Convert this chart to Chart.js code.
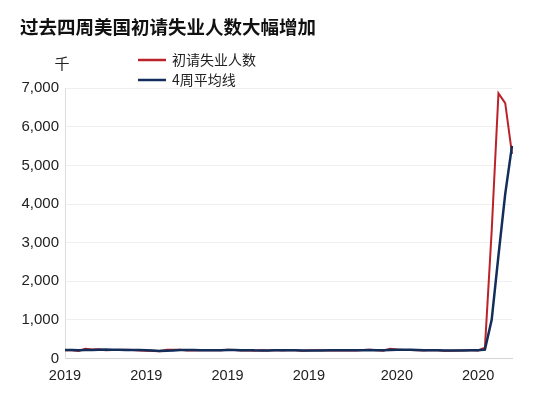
<!DOCTYPE html>
<html>
<head>
<meta charset="utf-8">
<script src="https://cdn.jsdelivr.net/npm/chart.js@4"></script>
<style>
  html, body { margin: 0; padding: 0; background: #fff; }
  #wrap { width: 550px; height: 396px; }
</style>
</head>
<body>
<div id="wrap"><canvas id="chart" width="550" height="396"></canvas></div>
<script>
// weekly dates (week ending Saturday)
const weeks = [
  "2019-01-05","2019-01-12","2019-01-19","2019-01-26","2019-02-02","2019-02-09","2019-02-16","2019-02-23",
  "2019-03-02","2019-03-09","2019-03-16","2019-03-23","2019-03-30","2019-04-06","2019-04-13","2019-04-20",
  "2019-04-27","2019-05-04","2019-05-11","2019-05-18","2019-05-25","2019-06-01","2019-06-08","2019-06-15",
  "2019-06-22","2019-06-29","2019-07-06","2019-07-13","2019-07-20","2019-07-27","2019-08-03","2019-08-10",
  "2019-08-17","2019-08-24","2019-08-31","2019-09-07","2019-09-14","2019-09-21","2019-09-28","2019-10-05",
  "2019-10-12","2019-10-19","2019-10-26","2019-11-02","2019-11-09","2019-11-16","2019-11-23","2019-11-30",
  "2019-12-07","2019-12-14","2019-12-21","2019-12-28","2020-01-04","2020-01-11","2020-01-18","2020-01-25",
  "2020-02-01","2020-02-08","2020-02-15","2020-02-22","2020-02-29","2020-03-07","2020-03-14","2020-03-21",
  "2020-03-28","2020-04-04","2020-04-11"
];

// 初请失业人数 (thousands)
const claims = [
  216, 213, 199, 253, 234, 239, 216, 225, 223, 229, 221, 211, 202, 196, 192, 230,
  230, 228, 212, 211, 215, 218, 222, 216, 227, 221, 209, 216, 206, 215, 209, 220,
  209, 215, 217, 204, 208, 213, 219, 210, 218, 212, 218, 211, 225, 227, 213, 203,
  252, 235, 222, 220, 214, 207, 223, 216, 202, 205, 211, 219, 216, 211, 282, 3307,
  6867, 6615, 5300
];

// 4周平均线 (thousands)
const avg4w = [
  221, 220, 215, 220, 225, 231, 236, 229, 226, 223, 225, 221, 216, 207, 200, 205,
  212, 220, 225, 220, 217, 214, 217, 218, 221, 222, 218, 218, 213, 212, 212, 213,
  213, 213, 215, 211, 211, 211, 211, 213, 215, 215, 215, 215, 217, 220, 219, 217,
  224, 232, 228, 232, 223, 216, 216, 215, 212, 212, 209, 209, 213, 215, 232, 1004,
  2665, 4266, 5508
];

// x tick labels shown under the axis
const tickIdx = [0, 12, 24, 36, 49, 61];
const tickText = ["2019", "2019", "2019", "2019", "2020", "2020"];

const seriesNames = ["初请失业人数", "4周平均线"];
const seriesColors = ["#bb2229", "#132e5a"];

const textColor = "#222";
const cjk = "'Noto Sans CJK SC', 'Noto Sans', sans-serif";
const latin = "'Liberation Sans', Arial, sans-serif";

// legend + unit label drawn above the plot
const topLabels = {
  id: "topLabels",
  afterDraw(chart) {
    const ctx = chart.ctx;
    ctx.save();
    ctx.font = "15px " + cjk;
    ctx.fillStyle = textColor;
    ctx.textAlign = "center";
    ctx.textBaseline = "middle";
    ctx.fillText("千", 62, 63);

    ctx.textAlign = "left";
    ctx.font = "14px " + cjk;
    chart.data.datasets.forEach((ds, i) => {
      const y = 60 + i * 20;
      ctx.strokeStyle = ds.borderColor;
      ctx.lineWidth = 2.5;
      ctx.beginPath();
      ctx.moveTo(138, y);
      ctx.lineTo(166, y);
      ctx.stroke();
      ctx.fillText(ds.label, 172, y);
    });
    ctx.restore();
  },
};

new Chart(document.getElementById("chart"), {
  type: "line",
  data: {
    labels: weeks,
    datasets: [
      {
        label: seriesNames[0],
        data: claims,
        borderColor: seriesColors[0],
        borderWidth: 2,
        pointRadius: 0,
        tension: 0,
        order: 2,
      },
      {
        label: seriesNames[1],
        data: avg4w,
        borderColor: seriesColors[1],
        borderWidth: 2.5,
        pointRadius: 0,
        tension: 0,
        order: 1,
      },
    ],
  },
  options: {
    responsive: false,
    animation: false,
    layout: { padding: { left: 20, right: 38, top: 4, bottom: 2 } },
    plugins: {
      legend: { display: false },
      tooltip: { enabled: false },
      title: {
        display: true,
        text: "过去四周美国初请失业人数大幅增加",
        align: "start",
        color: "#111",
        font: { family: cjk, size: 18.5, weight: "bold" },
        padding: { top: 12, bottom: 50 },
      },
    },
    scales: {
      x: {
        type: "category",
        offset: false,
        grid: { display: false, drawTicks: false },
        border: { color: "#d4d4d4", width: 1 },
        ticks: {
          autoSkip: false,
          maxRotation: 0,
          padding: 9,
          color: textColor,
          font: { family: latin, size: 14.5 },
          callback: (v, i) => {
            const k = tickIdx.indexOf(i);
            return k >= 0 ? tickText[k] : null;
          },
        },
      },
      y: {
        min: 0,
        max: 7000,
        afterFit: (s) => { s.width = 45; },
        grid: { color: "#efefef", drawTicks: false },
        border: { color: "#dcdcdc", width: 1 },
        ticks: {
          stepSize: 1000,
          padding: 6,
          color: textColor,
          font: { family: latin, size: 15 },
          callback: (v) => v.toLocaleString("en-US"),
        },
      },
    },
  },
  plugins: [topLabels],
});
</script>
</body>
</html>
